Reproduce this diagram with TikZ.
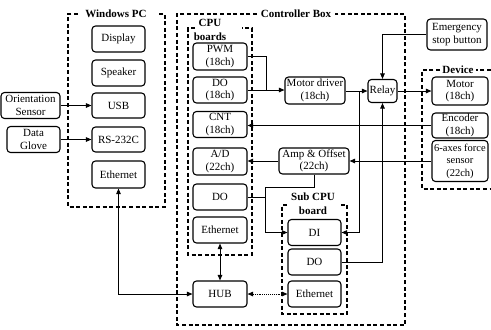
\documentclass[tikz,border=0pt]{standalone}
\usepackage{fontspec}
\setmainfont{Liberation Serif}
\usetikzlibrary{arrows.meta}
\begin{document}
\begin{tikzpicture}[x=1pt,y=-1pt,
  unit/.style={draw,rounded corners=3.5pt,line width=1.1pt,inner sep=0pt,align=center,
    font=\fontsize{11}{12.5}\selectfont},
  frame/.style={line width=1.2pt,dash pattern=on 4pt off 2.6pt},
  title/.style={font=\fontsize{11}{12.5}\selectfont\bfseries,inner sep=1pt,align=center},
  link/.style={line width=0.9pt},
  arr/.style={link,-{Triangle[length=5.5pt,width=4.5pt]}},
  arrb/.style={link,{Triangle[length=5.5pt,width=4.5pt]}-{Triangle[length=5.5pt,width=4.5pt]}}]
\useasboundingbox (0,0) rectangle (491,330);

% ---- group frames (top edges left open where the titles sit) ----
\draw[frame] (78,14) -- (68,14) -- (68,207) -- (165,207) -- (165,14) -- (158,14);
\node[title] (tpc) at (116,14) {Windows PC};

\draw[frame] (257,14) -- (177,14) -- (177,325) -- (405,325) -- (405,14) -- (335,14);
\node[title] (tcb) at (296,14) {Controller Box};

\draw[frame] (195,28) -- (188,28) -- (188,255) -- (252,255) -- (252,28) -- (242,28);
\node[title,font=\fontsize{11}{14}\selectfont\bfseries] (tcpu) at (210,30) {CPU\\boards};

\draw[frame] (287,205) -- (282,205) -- (282,314) -- (347,314) -- (347,205) -- (341,205);
\node[title,font=\fontsize{11}{14}\selectfont\bfseries] (tsub) at (313,204) {Sub CPU\\board};

\draw[frame] (491,70) -- (476,70);
\draw[frame] (440,70) -- (422,70) -- (422,189) -- (491,189);
\node[title] (tdev) at (458,70) {Device};

% ---- Windows PC ----
\node[unit,minimum width=53pt,minimum height=26pt] (disp) at (118.5,39) {Display};
\node[unit,minimum width=53pt,minimum height=26pt] (spk)  at (118.5,73) {Speaker};
\node[unit,minimum width=53pt,minimum height=25pt] (usb)  at (118.5,105.5) {USB};
\node[unit,minimum width=53pt,minimum height=25pt] (rs)   at (118.5,139.5) {RS-232C};
\node[unit,minimum width=53pt,minimum height=27pt] (peth) at (118.5,174.5) {Ethernet};

% ---- external inputs ----
\node[unit,minimum width=59pt,minimum height=26pt] (ori)   at (30.5,105.5) {Orientation\\Sensor};
\node[unit,minimum width=53pt,minimum height=26pt] (glove) at (33.5,139.5) {Data\\Glove};

% ---- CPU boards ----
\node[unit,minimum width=54pt,minimum height=27pt] (pwm)  at (220,56.5) {PWM\\(18ch)};
\node[unit,minimum width=54pt,minimum height=26pt] (cdo)  at (220,90) {DO\\(18ch)};
\node[unit,minimum width=54pt,minimum height=26pt] (cnt)  at (220,124.5) {CNT\\(18ch)};
\node[unit,minimum width=54pt,minimum height=27pt] (ad)   at (220,161.5) {A/D\\(22ch)};
\node[unit,minimum width=54pt,minimum height=26pt] (cdo2) at (220,197) {DO};
\node[unit,minimum width=54pt,minimum height=26pt] (ceth) at (220,230) {Ethernet};

% ---- controller parts ----
\node[unit,minimum width=60pt,minimum height=27pt] (md)    at (315,90.5) {Motor driver\\(18ch)};
\node[unit,minimum width=29pt,minimum height=23pt] (relay) at (382.5,91) {Relay};
\node[unit,minimum width=70pt,minimum height=26pt] (amp)   at (314,161) {Amp \& Offset\\(22ch)};
\node[unit,minimum width=54pt,minimum height=26pt] (hub)   at (220,294) {HUB};

% ---- Sub CPU board ----
\node[unit,minimum width=53pt,minimum height=26pt] (di)   at (314.5,232.5) {DI};
\node[unit,minimum width=53pt,minimum height=26pt] (sdo)  at (314.5,262) {DO};
\node[unit,minimum width=53pt,minimum height=26pt] (seth) at (314.5,294) {Ethernet};

% ---- devices ----
\node[unit,minimum width=60pt,minimum height=31pt] (estop) at (457,34.5) {Emergency\\stop button};
\node[unit,minimum width=56pt,minimum height=28pt] (motor) at (460,91) {Motor\\(18ch)};
\node[unit,minimum width=56pt,minimum height=25pt] (enc)   at (460,125.5) {Encoder\\(18ch)};
\node[unit,minimum width=56pt,minimum height=41pt,font=\fontsize{10.5}{12.5}\selectfont] (fs) at (460,161) {6-axes force\\sensor\\(22ch)};

% ---- junction points ----
\coordinate (jpwm) at (266,90);
\coordinate (jmd)  at (359,91);
\coordinate (jamp) at (265,187);

% ---- connectors ----
\draw[arr] (ori.east) -- (ori.east -| usb.west);
\draw[arr] (glove.east) -- (glove.east -| rs.west);
\draw[arrb] (peth.south) |- (hub.west);

\draw[link] (pwm.east) -| (jpwm);
\draw[arr] (cdo.east) -- (cdo.east -| md.west);
\draw[arr] (md.east |- jmd) -- (jmd -| relay.west);
\draw[arr] (jmd) |- (di.east);
\draw[arr] (estop.west) -| (relay.north);
\draw[arr] (relay.east) -- (relay.east -| motor.west);
\draw[arr] (sdo.east) -| (relay.south);

\draw[arr] (enc.west) -- (enc.west -| cnt.east);
\draw[arr] (fs.west) -- (fs.west -| amp.east);
\draw[arr] (amp.west) -- (amp.west -| ad.east);
\draw[arr] (amp.south) |- (jamp) |- (di.west);
\draw[link] (cdo2.east) -- (cdo2.east -| jamp);

\draw[arrb] (ceth) -- (hub);
\draw[arrb,densely dotted] (hub) -- (seth);
\end{tikzpicture}
\end{document}
